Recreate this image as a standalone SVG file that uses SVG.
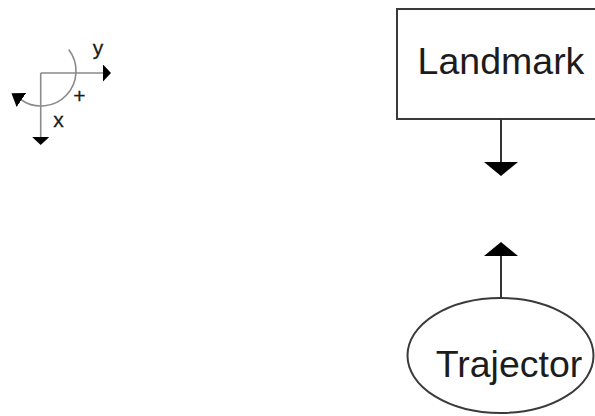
<svg xmlns="http://www.w3.org/2000/svg" width="595" height="416" viewBox="0 0 595 416">
  <style>
    .node-shape { fill: #ffffff; stroke: #3a3a3a; stroke-width: 2; }
    .node-label { font-family: "Liberation Sans", Arial, sans-serif; font-size: 37.5px; fill: #1c1c1c; text-anchor: middle; }
    .link { stroke: #333333; stroke-width: 2; fill: none; }
    .axis { stroke: #8a8a8a; stroke-width: 1.6; fill: none; }
    .axis-label { font-family: "Liberation Sans", Arial, sans-serif; font-size: 21px; fill: #1c1c1c; stroke: #1c1c1c; stroke-width: 0.3; text-anchor: middle; }
  </style>
  <defs>
    <marker id="head-big" markerUnits="userSpaceOnUse" markerWidth="14" markerHeight="34" viewBox="0 0 14 34" refX="0" refY="17" orient="auto">
      <path d="M0,0 L14,17 L0,34 Z" fill="#000000"/>
    </marker>
    <marker id="head-small" markerUnits="userSpaceOnUse" markerWidth="8" markerHeight="17" viewBox="0 0 8 17" refX="0" refY="8.5" orient="auto">
      <path d="M0,0 L8,8.5 L0,17 Z" fill="#000000"/>
    </marker>
    <marker id="head-arc" markerUnits="userSpaceOnUse" markerWidth="12" markerHeight="17" viewBox="0 0 12 17" refX="0" refY="8.5" orient="auto">
      <path d="M0,0 L12,8.5 L0,17 Z" fill="#000000"/>
    </marker>
  </defs>

  <!-- coordinate frame with rotation sense -->
  <g id="frame">
    <path class="axis" d="M68.7,49.6 A35,35 0 0 1 21.4,100" marker-end="url(#head-arc)"/>
    <line class="axis" x1="40.7" y1="73" x2="103" y2="73" marker-end="url(#head-small)"/>
    <line class="axis" x1="40.7" y1="73" x2="40.7" y2="137" marker-end="url(#head-small)"/>
    <text class="axis-label" x="98" y="55">y</text>
    <text class="axis-label" x="58.5" y="127">x</text>
    <text class="axis-label" x="79.5" y="103">+</text>
  </g>

  <g id="landmark">
    <rect class="node-shape" x="397" y="9" width="210" height="110"/>
    <text class="node-label" x="501" y="74">Landmark</text>
  </g>

  <g id="trajector">
    <ellipse class="node-shape" cx="500.5" cy="355.5" rx="93" ry="57.5" stroke-width="1.6"/>
    <text class="node-label" x="509" y="377">Trajector</text>
  </g>

  <g id="connectors">
    <line class="link" x1="501" y1="119" x2="501" y2="162" marker-end="url(#head-big)"/>
    <line class="link" x1="501" y1="298" x2="501" y2="256" marker-end="url(#head-big)"/>
  </g>
</svg>
